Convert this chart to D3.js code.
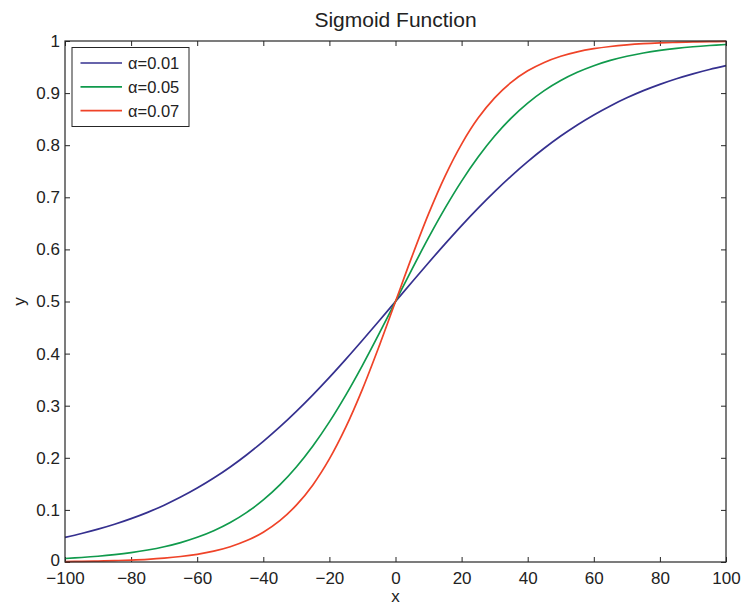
<!DOCTYPE html>
<html>
  <head>
    <meta charset="utf-8" />
    <title>Sigmoid Function</title>
    <style>
      body {
        margin: 0;
        background: #fff;
      }
      text {
        font-family: "Liberation Sans", Arial, Helvetica, sans-serif;
      }
    </style>
    <script src="https://d3js.org/d3.v7.min.js"></script>
  </head>
  <body>
    <div id="chart"></div>
    <script type="text/javascript">
      // x samples (step 5)
      var xs = d3.range(-100, 101, 5);

      // values
      var blue = [
        0.0474, 0.0547, 0.0630, 0.0724, 0.0832, 0.0953, 0.1091, 0.1246, 0.1419, 0.1611,
        0.1824, 0.2059, 0.2315, 0.2592, 0.2891, 0.3208, 0.3543, 0.3894, 0.4256, 0.4626,
        0.5,
        0.5374, 0.5744, 0.6106, 0.6457, 0.6792, 0.7109, 0.7408, 0.7685, 0.7941, 0.8176,
        0.8389, 0.8581, 0.8754, 0.8909, 0.9047, 0.9168, 0.9276, 0.9370, 0.9453, 0.9526
      ];
      var green = [
        0.0067, 0.0086, 0.0110, 0.0141, 0.0180, 0.0230, 0.0293, 0.0373, 0.0474, 0.0601,
        0.0759, 0.0953, 0.1192, 0.1480, 0.1824, 0.2227, 0.2689, 0.3208, 0.3775, 0.4378,
        0.5,
        0.5622, 0.6225, 0.6792, 0.7311, 0.7773, 0.8176, 0.8520, 0.8808, 0.9047, 0.9241,
        0.9399, 0.9526, 0.9627, 0.9707, 0.9770, 0.9820, 0.9859, 0.9890, 0.9914, 0.9933
      ];
      var red = [
        0.0009, 0.0013, 0.0018, 0.0026, 0.0037, 0.0052, 0.0074, 0.0105, 0.0148, 0.0208,
        0.0293, 0.0411, 0.0573, 0.0794, 0.1091, 0.1480, 0.1978, 0.2592, 0.3318, 0.4134,
        0.5,
        0.5866, 0.6682, 0.7408, 0.8022, 0.8520, 0.8909, 0.9206, 0.9427, 0.9589, 0.9707,
        0.9792, 0.9852, 0.9895, 0.9926, 0.9948, 0.9963, 0.9974, 0.9982, 0.9987, 0.9991
      ];

      var seriesNames = ["\u03b1=0.01", "\u03b1=0.05", "\u03b1=0.07"];
      var seriesColors = ["#35308f", "#109a4c", "#ef4328"];
      var xTicks = d3.range(-100, 101, 20);
      var yTicks = d3.range(0, 1.01, 0.1);

      var w = 742;
      var h = 607;
      var margin = { top: 41, right: 16, bottom: 45, left: 65 };
      var iw = w - margin.left - margin.right;
      var ih = h - margin.top - margin.bottom;

      var svg = d3
        .select("#chart")
        .append("svg")
        .attr("width", w)
        .attr("height", h);

      var x = d3.scaleLinear().domain([-100, 100]).range([0, iw]);
      var y = d3.scaleLinear().domain([0, 1]).range([ih, 0]);

      var g = svg
        .append("g")
        .attr("transform", "translate(" + margin.left + "," + margin.top + ")");

      var fmtY = function (d) {
        return d3.format(".1~f")(d);
      };

      // axes with inward ticks, box style
      var axisColor = "#262626";
      function styleAxis(sel) {
        sel.select(".domain").remove();
        sel.selectAll(".tick line").attr("stroke", axisColor).attr("stroke-width", 1);
        sel.selectAll(".tick text").attr("fill", "#222").attr("font-size", "17px");
      }

      g.append("g")
        .attr("transform", "translate(0," + ih + ")")
        .call(d3.axisBottom(x).tickValues(xTicks).tickSize(-5).tickPadding(10).tickFormat(d3.format("d")))
        .call(styleAxis);
      g.append("g")
        .call(d3.axisTop(x).tickValues(xTicks).tickSize(-5).tickFormat(""))
        .call(styleAxis);
      g.append("g")
        .call(d3.axisLeft(y).tickValues(yTicks).tickSize(-5).tickPadding(5).tickFormat(fmtY))
        .call(styleAxis);
      g.append("g")
        .attr("transform", "translate(" + iw + ",0)")
        .call(d3.axisRight(y).tickValues(yTicks).tickSize(-5).tickFormat(""))
        .call(styleAxis);

      // lift the "0" y label a touch so it clears the x labels
      g.selectAll(".tick text")
        .filter(function (d) { return d === 0 && this.textContent === "0" && +d3.select(this).attr("x") < 0; })
        .attr("dy", "0.2em");

      // lines
      var line = d3
        .line()
        .x(function (d) { return x(d[0]); })
        .y(function (d) { return y(d[1]); })
        .curve(d3.curveCatmullRom.alpha(0.5));

      [blue, green, red].forEach(function (vals, i) {
        g.append("path")
          .datum(xs.map(function (xv, j) { return [xv, vals[j]]; }))
          .attr("fill", "none")
          .attr("stroke", seriesColors[i])
          .attr("stroke-width", 1.7)
          .attr("d", line);
      });

      // frame
      g.append("rect")
        .attr("width", iw)
        .attr("height", ih)
        .attr("fill", "none")
        .attr("stroke", axisColor)
        .attr("stroke-width", 1.2);

      // legend
      var lg = g.append("g").attr("transform", "translate(7,6.5)");
      lg.append("rect")
        .attr("width", 117)
        .attr("height", 79)
        .attr("fill", "#fff")
        .attr("stroke", axisColor)
        .attr("stroke-width", 1);
      seriesNames.forEach(function (name, i) {
        var ry = 15.5 + i * 23.8;
        lg.append("line")
          .attr("x1", 8.5)
          .attr("x2", 50)
          .attr("y1", ry)
          .attr("y2", ry)
          .attr("stroke", seriesColors[i])
          .attr("stroke-width", 1.7);
        lg.append("text")
          .attr("x", 56)
          .attr("y", ry)
          .attr("dy", "0.36em")
          .attr("font-size", "16.5px")
          .attr("fill", "#222")
          .text(name);
      });

      // title and axis labels
      svg.append("text")
        .attr("x", margin.left + iw / 2)
        .attr("y", 27)
        .attr("text-anchor", "middle")
        .attr("font-size", "21px")
        .attr("fill", "#222")
        .text("Sigmoid Function");
      svg.append("text")
        .attr("x", margin.left + iw / 2)
        .attr("y", 602)
        .attr("text-anchor", "middle")
        .attr("font-size", "17px")
        .attr("fill", "#222")
        .text("x");
      svg.append("text")
        .attr("transform", "translate(25," + (margin.top + ih / 2) + ")rotate(-90)")
        .attr("text-anchor", "middle")
        .attr("font-size", "17px")
        .attr("fill", "#222")
        .text("y");
    </script>
  </body>
</html>
